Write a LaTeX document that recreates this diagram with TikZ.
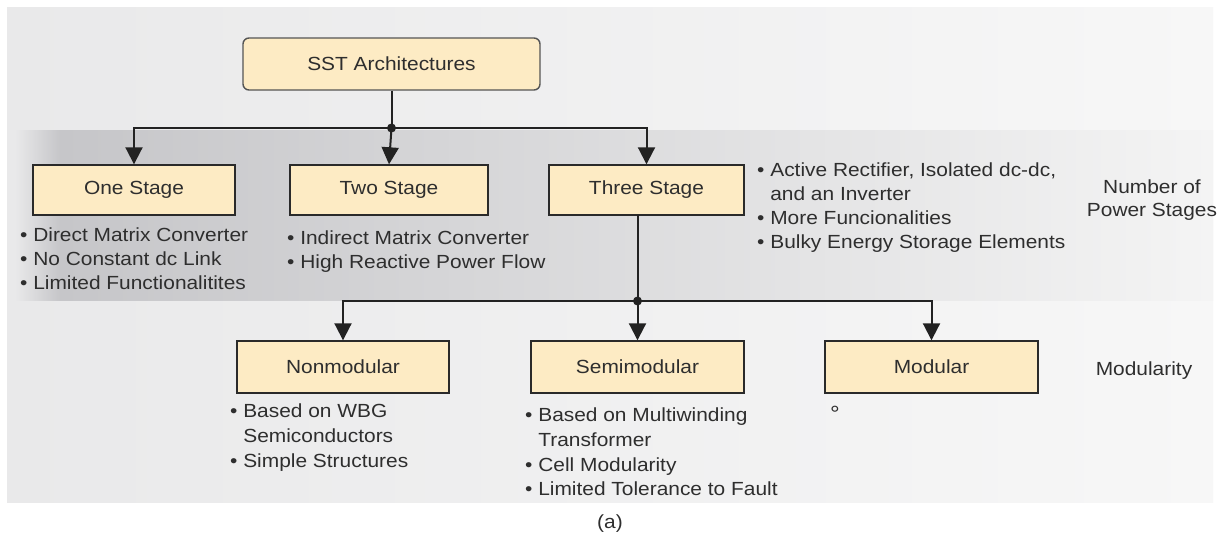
\documentclass[tikz,border=0pt]{standalone}
\usepackage{fontspec}
\setmainfont{Liberation Sans}[FakeStretch=1.1]
\usetikzlibrary{arrows.meta}
\definecolor{boxfill}{HTML}{FDEBC4}
\definecolor{boxline}{HTML}{2A2A2A}
\definecolor{sstline}{HTML}{555555}
\definecolor{txt}{HTML}{2E2E2E}
\definecolor{bgL}{HTML}{E9E9EA}
\definecolor{bgR}{HTML}{F7F7F7}
\definecolor{bandL}{HTML}{C6C6C9}
\definecolor{bandM}{HTML}{DADADC}
\definecolor{bandR}{HTML}{F4F4F4}
\definecolor{conn}{HTML}{222222}
\begin{document}
\begin{tikzpicture}[x=1pt,y=-1pt,
  every node/.style={font=\fontsize{19}{24}\selectfont, text=txt},
  box/.style={draw=boxline, fill=boxfill, line width=1.4pt, inner sep=0pt},
  sstbox/.style={box, draw=sstline, rounded corners=6pt},
  item/.style={anchor=base west, inner sep=0pt},
  lbl/.style={anchor=base, inner sep=0pt},
  conline/.style={draw=conn, line width=2pt},
  arr/.style={conline, -{Triangle[width=17pt,length=17pt]}},
  dot/.style={circle, fill=conn, inner sep=0pt, minimum size=9pt}
]
\useasboundingbox (0,0) rectangle (1220,538);
\fill[white] (0,0) rectangle (1220,538);
% background panels
\shade[left color=bgL, right color=bgR] (7,7) rectangle (1213,502);
\shade[left color=bgL, right color=bandL] (15,130) rectangle (60,300);
\shade[left color=bandL, middle color=bandM, right color=bandR] (60,130) rectangle (1213,300);

% boxes
\node[sstbox, minimum width=297, minimum height=52] (sst) at (391.5,64) {SST Architectures};
\node[box, minimum width=202, minimum height=50] (one) at (134,190) {One Stage};
\node[box, minimum width=198, minimum height=50] (two) at (389,190) {Two Stage};
\node[box, minimum width=195, minimum height=50] (three) at (646.5,190) {Three Stage};
\node[box, minimum width=212, minimum height=52] (non) at (343,367) {Nonmodular};
\node[box, minimum width=213, minimum height=52] (semi) at (637.5,367) {Semimodular};
\node[box, minimum width=213, minimum height=52] (mod) at (931.5,367) {Modular};

% junctions
\coordinate (j1) at (391.5,128);
\coordinate (j2) at (637.5,301);
\coordinate (tdown) at (637.5,215);

% connectors
\draw[conline] (sst.south) -- (j1);
\draw[arr] (j1) -| (one.north);
\draw[arr] (j1) -- (two.north);
\draw[arr] (j1) -| (three.north);
\draw[conline] (tdown) -- (j2);
\draw[arr] (j2) -| (non.north);
\draw[arr] (j2) -- (semi.north);
\draw[arr] (j2) -| (mod.north);
\node[dot] (d1) at (j1) {};
\node[dot] (d2) at (j2) {};

% one stage
\node[item] (o1) at (20,241) {• Direct Matrix Converter};
\node[item] (o2) at (20,265) {• No Constant dc Link};
\node[item] (o3) at (20,289) {• Limited Functionalitites};
% two stage
\node[item] (t1) at (287,244) {• Indirect Matrix Converter};
\node[item] (t2) at (287,268) {• High Reactive Power Flow};
% three stage
\node[item] (h1) at (757,176) {• Active Rectifier, Isolated dc-dc,};
\node[item] (h2) at (757,200) {\phantom{• }and an Inverter};
\node[item] (h3) at (757,224) {• More Funcionalities};
\node[item] (h4) at (757,248) {• Bulky Energy Storage Elements};
% right labels
\node[lbl] (n1) at (1152,193) {Number of};
\node[lbl] (n2) at (1152,216) {Power Stages};
\node[lbl] (m1) at (1144,375) {Modularity};
% nonmodular
\node[item] (a1) at (230,417) {• Based on WBG};
\node[item] (a2) at (230,442) {\phantom{• }Semiconductors};
\node[item] (a3) at (230,467) {• Simple Structures};
% semimodular
\node[item] (b1) at (525,421) {• Based on Multiwinding};
\node[item] (b2) at (525,446) {\phantom{• }Transformer};
\node[item] (b3) at (525,471) {• Cell Modularity};
\node[item] (b4) at (525,495) {• Limited Tolerance to Fault};
% modular
\node[item, font=\fontsize{22}{24}\selectfont] (c1) at (830,421) {°};
% caption
\node[lbl] (cap) at (610,528) {(a)};
\end{tikzpicture}
\end{document}
